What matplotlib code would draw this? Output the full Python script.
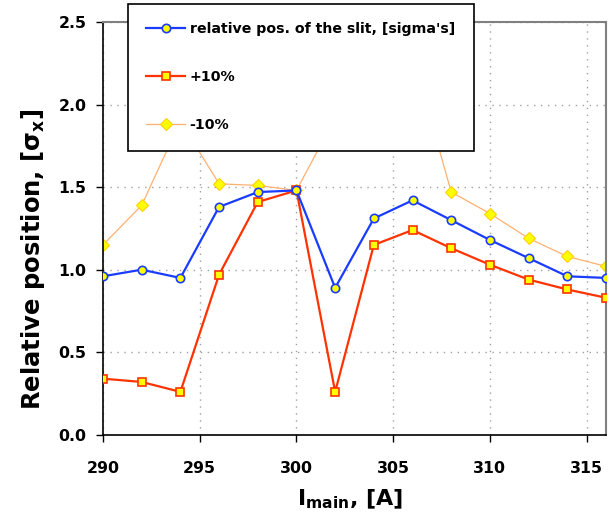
import numpy as np
import matplotlib
matplotlib.use("Agg")
import matplotlib.pyplot as plt

plt.rcParams['font.family'] = ['DejaVu Sans']
plt.rcParams['font.weight'] = 'bold'
plt.rcParams['mathtext.fontset'] = 'dejavusans'
plt.rcParams['mathtext.default'] = 'bf'

# main current, A
i_main = [290, 292, 294, 296, 298, 300, 302, 304, 306, 308, 310, 312, 314, 316]
# relative slit position in sigmas
rel_pos = [0.96, 1.00, 0.95, 1.38, 1.47, 1.48, 0.89, 1.31, 1.42, 1.30, 1.18, 1.07, 0.96, 0.95]
plus10 = [0.34, 0.32, 0.26, 0.97, 1.41, 1.48, 0.26, 1.15, 1.24, 1.13, 1.03, 0.94, 0.88, 0.83]
minus10 = [1.15, 1.39, 1.90, 1.52, 1.51, 1.48, 1.92, 2.15, 2.30, 1.47, 1.34, 1.19, 1.08, 1.02]

labels = ["relative pos. of the slit, [sigma's]", "+10%", "-10%"]

fig = plt.figure(figsize=(6.13, 5.16), dpi=100)
ax = fig.add_axes([103/613, 1-434.8/516, 503/613, (434.8-22)/516])

ax.plot(i_main, rel_pos, '-o', color='#1a3cff', lw=1.6, ms=6,
        mfc='#ffff00', mec='#1a3cff', mew=1.2, label=labels[0], zorder=4)
ax.plot(i_main, plus10, '-s', color='#ff3300', lw=1.6, ms=6,
        mfc='#ffff00', mec='#ff3300', mew=1.2, label=labels[1], zorder=3)
ax.plot(i_main, minus10, '-D', color='#ffb070', lw=0.9, ms=6,
        mfc='#ffff00', mec='#ffd000', mew=0.8, label=labels[2], zorder=2)

ax.set_xlim(290, 316)
ax.set_ylim(0, 2.5)
ax.set_xticks(np.arange(290, 316, 5))
ax.set_yticks(np.arange(0, 2.51, 0.5))
ax.yaxis.set_major_formatter(matplotlib.ticker.FormatStrFormatter('%.1f'))
ax.grid(True, color='#a0a0a0', ls=(0, (1, 4)), lw=1)
ax.tick_params(direction='out', length=5, width=1, labelsize=11.3)
ax.tick_params(axis='x', pad=14)
ax.tick_params(axis='y', pad=7)

for s in ['top', 'right']:
    ax.spines[s].set_color('#808080')
    ax.spines[s].set_linewidth(1.5)
for s in ['left', 'bottom']:
    ax.spines[s].set_color('black')
    ax.spines[s].set_linewidth(1.2)

ax.set_xlabel(r'I$_{\mathbf{main}}$, [A]', fontsize=16, fontweight='bold')
ax.set_ylabel(r'Relative position, [σ$_{\mathbf{x}}$]', fontsize=17.5, fontweight='bold')
ax.xaxis.set_label_coords(0.491, -0.127)
ax.yaxis.set_label_coords(-0.111, 0.425)

leg = fig.legend(loc='upper left', bbox_to_anchor=(128/613, 1-152/516, 346/613, 148/516),
                 mode='expand', prop={'weight': 'bold', 'size': 10.2},
                 labelspacing=2.4, handlelength=2.7, handletextpad=0.35,
                 borderpad=1.3, borderaxespad=0, fancybox=False, framealpha=1,
                 edgecolor='black')
leg.get_frame().set_linewidth(1.2)

fig.savefig("out.png", dpi=100)
